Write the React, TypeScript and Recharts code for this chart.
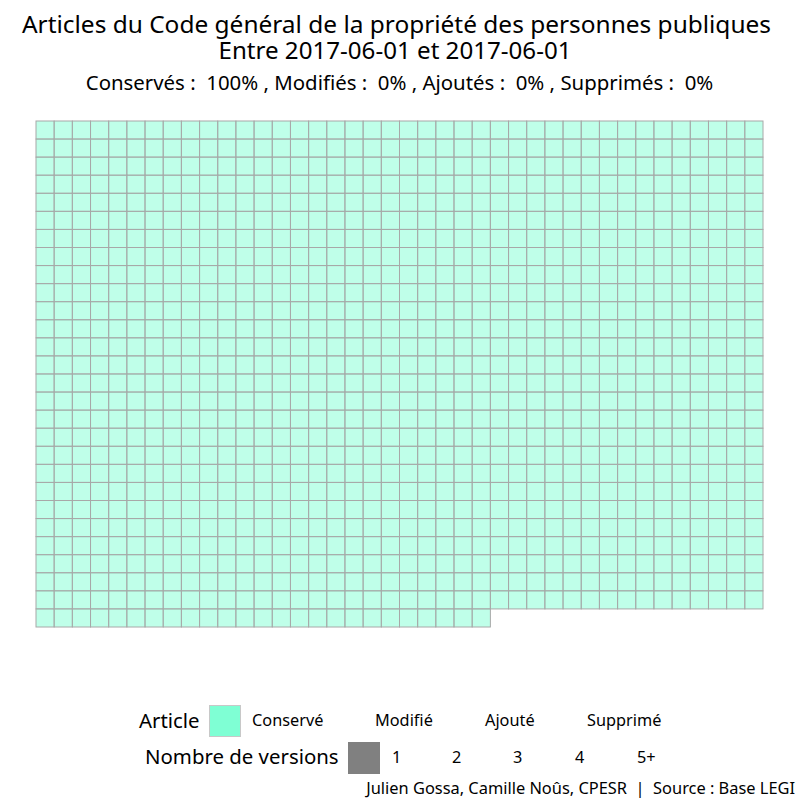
import React from "react";
import { Scatter, ScatterChart, XAxis, YAxis } from "recharts";

const CATEGORIES = ["Conservé", "Modifié", "Ajouté", "Supprimé"];
const COUNTS = [1105, 0, 0, 0];
const CATEGORY_PLURALS = ["Conservés", "Modifiés", "Ajoutés", "Supprimés"];
const VERSIONS = ["1", "2", "3", "4", "5+"];
const COLS = 40;
const ROWS = 28;

const CAT_COLORS = ["#7fffd4", "#ffd27f", "#7fb2ff", "#ff7f7f"];

const W = 800;
const H = 800;
const MARGIN = { top: 121, left: 36, right: 37, bottom: 173 };
const PLOT_W = W - MARGIN.left - MARGIN.right;
const PLOT_H = H - MARGIN.top - MARGIN.bottom;

const total = COUNTS.reduce((a, b) => a + b, 0);

// one cell per article, laid out row by row
const cells: { col: number; row: number; cat: number }[] = [];
{
  let i = 0;
  COUNTS.forEach((n, cat) => {
    for (let k = 0; k < n; k++, i++) {
      cells.push({ col: (i % COLS) + 0.5, row: Math.floor(i / COLS) + 0.5, cat });
    }
  });
}

const Cell = (props: any) => {
  const { cx, cy, payload } = props;
  const w = PLOT_W / COLS;
  const h = PLOT_H / ROWS;
  return (
    <rect
      x={cx - w / 2}
      y={cy - h / 2}
      width={w}
      height={h}
      fill={CAT_COLORS[payload.cat]}
      fillOpacity={0.5}
      stroke="#a8a8a8"
      strokeWidth={1}
    />
  );
};

const font = "'Noto Sans', 'Open Sans', sans-serif";

export default function App() {
  const subtitle = CATEGORY_PLURALS.map(
    (c, i) => `${c} :  ${Math.round((COUNTS[i] / total) * 100)}%`
  ).join(" , ");

  const catX = [252, 375, 485, 587];
  const verX = [392, 452, 513, 575, 637];

  return (
    <div style={{ position: "absolute", left: 0, top: 0, width: W, height: H, background: "#fff" }}>
      <div style={{ position: "absolute", left: 0, top: 0 }}>
        <ScatterChart width={W} height={H} margin={MARGIN}>
          <XAxis type="number" dataKey="col" domain={[0, COLS]} hide />
          <YAxis type="number" dataKey="row" domain={[0, ROWS]} reversed hide />
          <Scatter data={cells} shape={Cell} isAnimationActive={false} />
        </ScatterChart>
      </div>

      <svg width={W} height={H} style={{ position: "absolute", left: 0, top: 0, fontFamily: font }}>
        <g textAnchor="middle" fill="#000">
          <text x={396.5} y={33} fontSize={23} textLength={749} lengthAdjust="spacingAndGlyphs">
            Articles du Code général de la propriété des personnes publiques
          </text>
          <text x={395} y={59} fontSize={23} textLength={353} lengthAdjust="spacingAndGlyphs">
            Entre 2017-06-01 et 2017-06-01
          </text>
          <text x={399.5} y={90} fontSize={20.4} style={{ whiteSpace: "pre" }}>{subtitle}</text>
        </g>

        {/* legend */}
        <text x={139} y={728} fontSize={20.4}>Article</text>
        <rect x={209.5} y={705.5} width={31} height={31} fill={CAT_COLORS[0]} stroke="#c8c8c8" />
        {CATEGORIES.map((c, i) => (
          <text key={c} x={catX[i]} y={726} fontSize={16.3}>{c}</text>
        ))}
        <text x={145} y={764} fontSize={20.4}>Nombre de versions</text>
        <rect x={348} y={742} width={32} height={32} fill="#808080" />
        {VERSIONS.map((v, i) => (
          <text key={v} x={verX[i]} y={763} fontSize={16.3}>{v}</text>
        ))}
        <text x={795} y={794} fontSize={16.4} textAnchor="end" style={{ whiteSpace: "pre" }}>
          Julien Gossa, Camille Noûs, CPESR  |  Source : Base LEGI
        </text>
      </svg>
    </div>
  );
}
